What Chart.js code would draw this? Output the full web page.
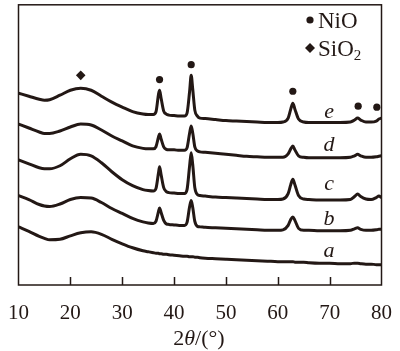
<!DOCTYPE html>
<html>
<head>
<meta charset="utf-8">
<script src="https://cdn.jsdelivr.net/npm/chart.js@4/dist/chart.umd.min.js"></script>
<style>
  html, body { margin: 0; padding: 0; background: #fff; }
  #xrd { display: block; }
</style>
</head>
<body>
<canvas id="xrd" width="400" height="351"></canvas>
<script>
// 2theta sampling points (deg), shared by all patterns
const angles = [10, 12, 14, 15, 16, 18, 20, 22, 24, 26, 28, 30, 32, 34, 35, 36, 36.5, 37, 37.2, 37.5,
    38, 38.5, 39, 40, 41, 42, 42.5, 43, 43.3, 43.6, 44, 44.5, 45, 46, 48, 50, 52, 54, 56, 58,
    60, 61, 62, 62.5, 62.9, 63.3, 64, 65, 66, 68, 70, 72, 74, 74.8, 75.4, 76, 77, 78, 79, 79.5, 80];

// intensities (a.u., curves already offset in the stack)
const seriesE = [193, 190, 187, 186, 186.5, 191, 196, 198, 196, 190, 184, 179, 174.5, 172, 171.5, 171.5, 174, 192, 196, 188,
    175, 172, 171, 170.5, 170, 170, 173, 195, 211, 197, 176, 170, 168, 167.5, 166.5, 165.5, 165, 164.5, 164, 163.5,
    163.5, 164, 168, 177, 183, 177, 167, 164, 163.5, 163.5, 163.5, 163.5, 164, 166, 168, 166, 164, 164, 165, 167, 168];
const seriesD = [162, 158, 154, 152.5, 152.5, 155, 159, 162, 161, 156, 150, 145, 140, 137.5, 137, 137, 139, 149, 152, 147,
    139, 136.5, 136, 136, 135.5, 135.5, 138, 153, 160, 153, 139, 135, 134, 133.5, 132.5, 131.5, 130.5, 129.5, 129, 128.5,
    128.5, 128.5, 132, 137, 140, 136, 130, 128.5, 128, 128, 128, 128, 128.5, 130, 131.5, 130, 128.5, 128.5, 129, 129.5, 130];
const seriesC = [126, 122, 118, 117, 117, 120, 127, 131.5, 130, 123, 114, 106, 100, 96, 95, 94.5, 97, 113, 119, 111,
    98, 94, 93, 92.5, 92, 92, 96, 120, 133, 121, 98, 91, 90, 89.5, 88.5, 88, 87.5, 87, 86.5, 86,
    86, 86.5, 92, 101, 106.5, 101, 90, 86.5, 86, 85.5, 85.5, 85.5, 86, 89, 91.5, 89, 86.5, 86, 88, 89.5, 88];
const seriesB = [90, 86, 81, 79.5, 79, 81.5, 86, 88, 87.5, 83, 77, 72, 67, 63.5, 62.5, 62, 64, 74, 77.5, 73,
    65, 61.5, 61, 60.5, 60, 60, 63, 79, 85, 78, 64, 59, 58.5, 58, 57.5, 57, 56.5, 56, 55.5, 55,
    55, 55.5, 60, 66, 68.5, 65, 57, 55, 55, 54.5, 54.5, 54.5, 55, 56.5, 57.5, 56, 55, 55, 55.5, 56, 56];
const seriesA = [58.5, 54, 49, 47, 45.5, 46, 49.5, 52.5, 53.5, 51, 46, 41.5, 37.5, 34.5, 33.5, 32.5, 32, 32, 31.5, 31.5,
    31, 31, 30.5, 30, 29.5, 29, 29, 28.5, 28.5, 28.5, 28, 28, 27.5, 27, 26.5, 26, 25.5, 25, 24.5, 24,
    23.5, 23.5, 23.5, 23.5, 23.5, 23, 23, 23, 22.5, 22, 22, 21.5, 21.5, 22, 22, 21.5, 21, 21, 20.5, 20.5, 20.5];

// phase markers
const nioAngles = [37.2, 43.3, 62.9, 75.5, 79.1];
const nioLevels = [206.7, 221.7, 195, 180, 179];
const sio2Angles = [22.0];
const sio2Levels = [211];

// curve names and where their letters sit
const curveNames = ['a', 'b', 'c', 'd', 'e'];
const curveLabelAngle = 69.9;
const curveLabelLevels = [35, 67, 103, 142, 175];

const tickValues = [20, 30, 40, 50, 60, 70];

const ink = '#231815';
const serif = '"Liberation Serif", "Times New Roman", serif';

function toPoints(xs, ys) {
    return xs.map((x, i) => ({ x: x, y: ys[i] }));
}

const patterns = [seriesA, seriesB, seriesC, seriesD, seriesE].map(ys => ({
    type: 'line',
    data: toPoints(angles, ys),
    borderColor: ink,
    borderWidth: 3,
    pointRadius: 0,
    fill: false,
    cubicInterpolationMode: 'monotone'
}));

const markerSets = [
    {
        type: 'scatter',
        data: toPoints(nioAngles, nioLevels),
        pointStyle: 'circle',
        pointRadius: 3.6,
        backgroundColor: ink,
        borderColor: ink,
        borderWidth: 0
    },
    {
        type: 'scatter',
        data: toPoints(sio2Angles, sio2Levels),
        pointStyle: 'rectRot',
        pointRadius: 4.8,
        backgroundColor: ink,
        borderColor: ink,
        borderWidth: 0
    }
];

// frame, inward ticks, letters, legend and axis title
const decorations = {
    id: 'decorations',
    afterDraw(chart) {
        const ctx = chart.ctx;
        const area = chart.chartArea;
        const xs = chart.scales.x;
        const ys = chart.scales.y;
        ctx.save();
        ctx.strokeStyle = ink;
        ctx.lineWidth = 1.5;
        ctx.strokeRect(area.left, area.top, area.right - area.left, area.bottom - area.top);

        ctx.beginPath();
        tickValues.forEach(v => {
            const px = Math.round(xs.getPixelForValue(v)) + 0.5;
            ctx.moveTo(px, area.bottom);
            ctx.lineTo(px, area.bottom - 8);
        });
        ctx.stroke();

        ctx.fillStyle = ink;
        ctx.textBaseline = 'alphabetic';
        ctx.textAlign = 'center';
        ctx.font = 'italic 22px ' + serif;
        curveNames.forEach((name, i) => {
            ctx.fillText(name, xs.getPixelForValue(curveLabelAngle), ys.getPixelForValue(curveLabelLevels[i]) + 7);
        });

        // legend
        ctx.textAlign = 'left';
        ctx.font = '23px ' + serif;
        ctx.beginPath();
        ctx.arc(310, 20, 3.6, 0, Math.PI * 2);
        ctx.fill();
        ctx.fillText('NiO', 318, 28);
        ctx.beginPath();
        ctx.moveTo(310, 43);
        ctx.lineTo(315, 48);
        ctx.lineTo(310, 53);
        ctx.lineTo(305, 48);
        ctx.closePath();
        ctx.fill();
        ctx.fillText('SiO', 318, 56);
        const w = ctx.measureText('SiO').width;
        ctx.font = '15px ' + serif;
        ctx.fillText('2', 318 + w, 60);

        // x axis title: 2θ/(°)
        const size = 22;
        const p1 = '2';
        const p3 = '/(°)';
        ctx.font = 'italic ' + size + 'px ' + serif;
        const wTheta = ctx.measureText('θ').width;
        ctx.font = size + 'px ' + serif;
        const w1 = ctx.measureText(p1).width;
        const w3 = ctx.measureText(p3).width;
        const x0 = 199 - (w1 + wTheta + w3) / 2;
        const yTitle = 345;
        ctx.fillText(p1, x0, yTitle);
        ctx.font = 'italic ' + size + 'px ' + serif;
        ctx.fillText('θ', x0 + w1, yTitle);
        ctx.font = size + 'px ' + serif;
        ctx.fillText(p3, x0 + w1 + wTheta, yTitle);
        ctx.restore();
    }
};

new Chart(document.getElementById('xrd'), {
    data: { datasets: patterns.concat(markerSets) },
    options: {
        responsive: false,
        animation: false,
        layout: { padding: { left: 15, right: 17, top: 3, bottom: 0 } },
        plugins: {
            legend: { display: false },
            tooltip: { enabled: false }
        },
        scales: {
            x: {
                type: 'linear',
                min: 10,
                max: 80,
                grid: { display: false },
                border: { display: false },
                ticks: {
                    stepSize: 10,
                    padding: 8,
                    color: ink,
                    font: { family: serif, size: 21 }
                },
                afterFit: function(scale) { scale.height = 66; }
            },
            y: {
                display: false,
                min: 0,
                max: 282
            }
        }
    },
    plugins: [decorations]
});
</script>
</body>
</html>
